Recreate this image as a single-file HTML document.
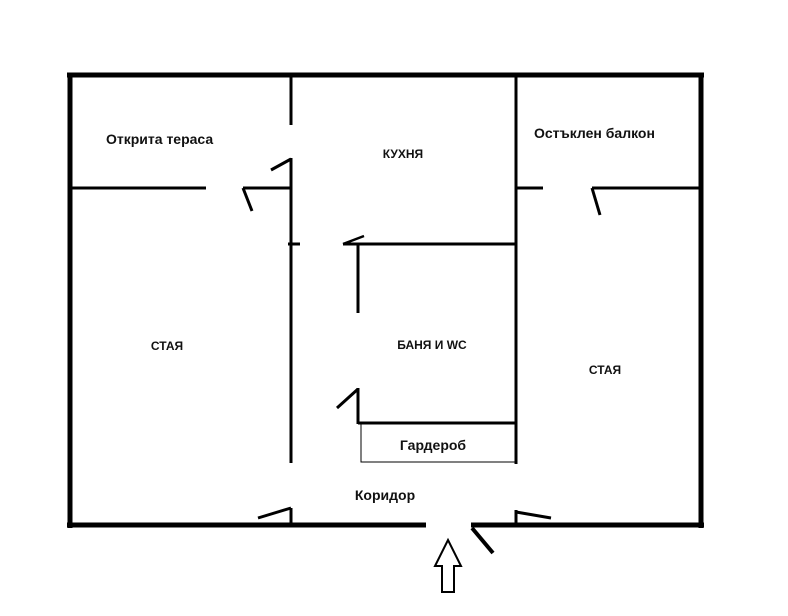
<!DOCTYPE html>
<html><head><meta charset="utf-8"><style>
html,body{margin:0;padding:0;background:#fff;width:788px;height:616px;overflow:hidden}
svg{display:block}
text{font-family:"Liberation Sans","DejaVu Sans",sans-serif;font-weight:bold;fill:#111}
</style></head><body>
<svg width="788" height="616" viewBox="0 0 788 616" xmlns="http://www.w3.org/2000/svg">
<g stroke="#000" fill="none" stroke-linecap="butt">
<line x1="67" y1="75" x2="704" y2="75" stroke-width="5"/>
<line x1="70" y1="73" x2="70" y2="528" stroke-width="5"/>
<line x1="701" y1="73" x2="701" y2="528" stroke-width="5"/>
<line x1="67" y1="525" x2="426" y2="525" stroke-width="5"/>
<line x1="471" y1="525" x2="704" y2="525" stroke-width="5"/>
<line x1="291" y1="75" x2="291" y2="125" stroke-width="3"/>
<line x1="291" y1="158" x2="291" y2="463" stroke-width="3"/>
<line x1="291" y1="508" x2="291" y2="525" stroke-width="3"/>
<line x1="291" y1="159" x2="271" y2="170" stroke-width="3"/>
<line x1="291" y1="508" x2="258" y2="518" stroke-width="3"/>
<line x1="70" y1="188" x2="206" y2="188" stroke-width="3"/>
<line x1="243" y1="188" x2="291" y2="188" stroke-width="3"/>
<line x1="243" y1="188" x2="252" y2="211" stroke-width="3"/>
<line x1="288" y1="244" x2="300" y2="244" stroke-width="3"/>
<line x1="343" y1="244" x2="516" y2="244" stroke-width="3"/>
<line x1="343" y1="244" x2="364" y2="236" stroke-width="2.5"/>
<line x1="358" y1="244" x2="358" y2="313" stroke-width="3"/>
<line x1="358" y1="388" x2="358" y2="424" stroke-width="3"/>
<line x1="358" y1="389" x2="337" y2="408" stroke-width="3"/>
<line x1="358" y1="423" x2="516" y2="423" stroke-width="3"/>
<rect x="361" y="423" width="155" height="39" stroke-width="1"/>
<line x1="516" y1="75" x2="516" y2="464" stroke-width="3"/>
<line x1="516" y1="510" x2="516" y2="525" stroke-width="3"/>
<line x1="516" y1="512" x2="551" y2="518" stroke-width="3"/>
<line x1="516" y1="188" x2="543" y2="188" stroke-width="3"/>
<line x1="592" y1="188" x2="701" y2="188" stroke-width="3"/>
<line x1="592" y1="188" x2="600" y2="215" stroke-width="3"/>
<line x1="472" y1="528" x2="493" y2="553" stroke-width="4"/>
<polygon points="448,540 461,566 454,566 454,592 442,592 442,566 435,566" stroke-width="2"/>
</g>
<text x="106" y="144" font-size="14">Открита тераса</text>
<text x="403" y="158" font-size="12" text-anchor="middle">КУХНЯ</text>
<text x="534" y="138" font-size="14">Остъклен балкон</text>
<text x="167" y="350" font-size="12" text-anchor="middle">СТАЯ</text>
<text x="432" y="349" font-size="12" text-anchor="middle">БАНЯ И WC</text>
<text x="605" y="374" font-size="12" text-anchor="middle">СТАЯ</text>
<text x="433" y="450" font-size="14" text-anchor="middle">Гардероб</text>
<text x="385" y="500" font-size="14" text-anchor="middle">Коридор</text>
</svg>
</body></html>
